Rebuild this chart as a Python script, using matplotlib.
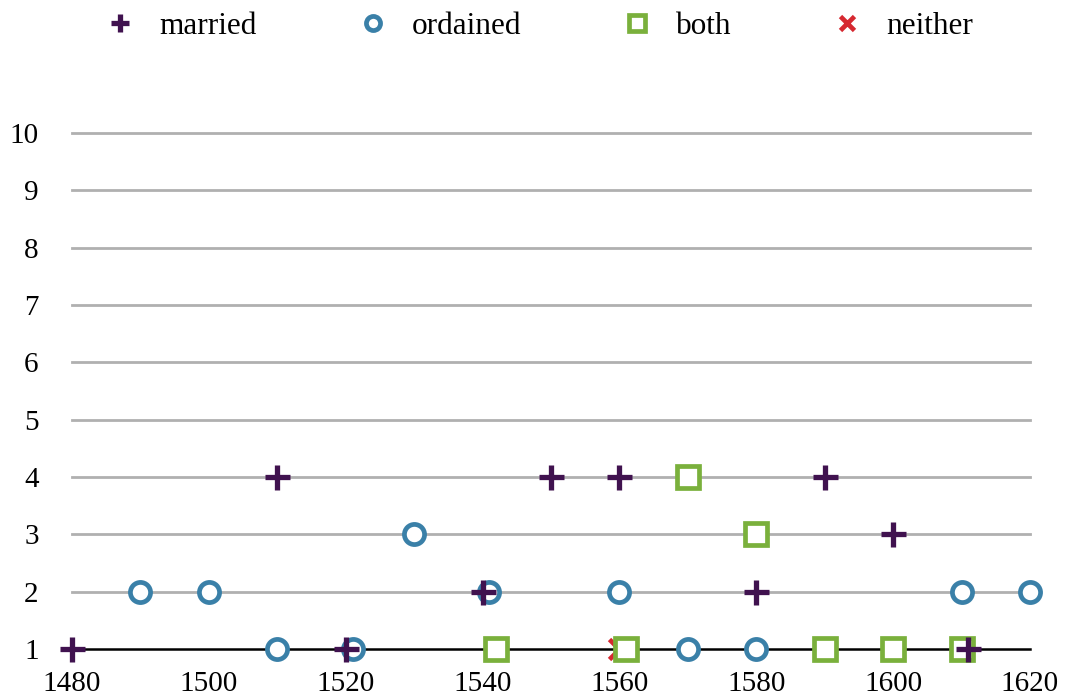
import matplotlib.pyplot as plt

plt.rcParams['font.family'] = ['Liberation Serif', 'DejaVu Serif']

# year, count per category
married_x = [1480, 1510, 1520, 1540, 1550, 1560, 1580, 1590, 1600, 1611]
married_y = [1, 4, 1, 2, 4, 4, 2, 4, 3, 1]
ordained_x = [1490, 1500, 1510, 1521, 1530, 1541, 1560, 1570, 1580, 1610, 1620]
ordained_y = [2, 2, 1, 1, 3, 2, 2, 1, 1, 2, 2]
both_x = [1542, 1561, 1570, 1580, 1590, 1600, 1610]
both_y = [1, 1, 4, 3, 1, 1, 1]
neither_x = [1560]
neither_y = [1]

x_ticks = [1480, 1500, 1520, 1540, 1560, 1580, 1600, 1620]
y_ticks = list(range(1, 11))

fig = plt.figure(figsize=(10.67, 6.99), dpi=100)
ax = fig.add_axes([0.0675, 0.0715, 0.8978, 0.7382])

# gridlines drawn by hand so the bottom one can be the black axis line
for y in y_ticks[1:]:
    ax.axhline(y, color='#b0b0b0', linewidth=2.0, zorder=1, clip_on=False)
ax.axhline(1, color='black', linewidth=1.8, zorder=1, clip_on=False)

ax.plot(neither_x, neither_y, linestyle='none', marker='x', markersize=15,
        markeredgewidth=3.4, color='#d62830', label='neither', zorder=2,
        clip_on=False)
ax.plot(both_x, both_y, linestyle='none', marker='s', markersize=16,
        markeredgewidth=3.4, markerfacecolor='white', markeredgecolor='#7ab03c',
        label='both', zorder=3, clip_on=False)
ax.plot(ordained_x, ordained_y, linestyle='none', marker='o', markersize=14.5,
        markeredgewidth=3.4, markerfacecolor='white', markeredgecolor='#3a80a8',
        label='ordained', zorder=4, clip_on=False)
ax.plot(married_x, married_y, linestyle='none', marker='+', markersize=18,
        markeredgewidth=3.8, color='#40124f', label='married', zorder=5,
        clip_on=False)

ax.set_xlim(1480, 1620)
ax.set_ylim(1, 10)
ax.set_xticks(x_ticks)
ax.set_yticks(y_ticks)
ax.tick_params(axis='both', length=0, labelsize=21)
ax.tick_params(axis='y', pad=24)
ax.tick_params(axis='x', pad=16)
for s in ax.spines.values():
    s.set_visible(False)

handles, labels = ax.get_legend_handles_labels()
order = ['married', 'ordained', 'both', 'neither']
hmap = dict(zip(labels, handles))
fig.legend([hmap[k] for k in order], order, loc='center',
           bbox_to_anchor=(0.505, 0.962), ncol=4, frameon=False, fontsize=22.5,
           markerscale=0.7, handlelength=1.0, handletextpad=0.75,
           columnspacing=3.2)

fig.savefig('out.png', dpi=100)
